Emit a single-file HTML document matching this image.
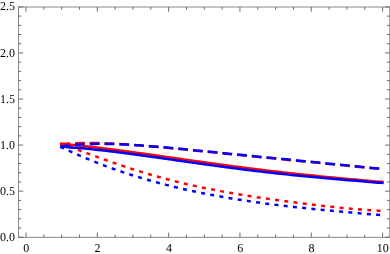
<!DOCTYPE html>
<html><head><meta charset="utf-8"><style>
html,body{margin:0;padding:0;background:#fff;}
svg{display:block;will-change:transform}
text{font-family:"Liberation Serif",serif;font-size:12px;fill:#000;text-rendering:geometricPrecision}
</style></head><body>
<svg width="390" height="254" viewBox="0 0 390 254">
<rect width="390" height="254" fill="#fff"/>
<rect x="18.5" y="7.0" width="371.3" height="230.3" fill="none" stroke="#7c7c7c" stroke-width="0.9"/>
<path d="M26.00,237.3 v-4.7 M26.00,7.0 v4.7 M43.83,237.3 v-2.8 M43.83,7.0 v2.8 M61.66,237.3 v-2.8 M61.66,7.0 v2.8 M79.49,237.3 v-2.8 M79.49,7.0 v2.8 M97.32,237.3 v-4.7 M97.32,7.0 v4.7 M115.15,237.3 v-2.8 M115.15,7.0 v2.8 M132.98,237.3 v-2.8 M132.98,7.0 v2.8 M150.81,237.3 v-2.8 M150.81,7.0 v2.8 M168.64,237.3 v-4.7 M168.64,7.0 v4.7 M186.47,237.3 v-2.8 M186.47,7.0 v2.8 M204.30,237.3 v-2.8 M204.30,7.0 v2.8 M222.13,237.3 v-2.8 M222.13,7.0 v2.8 M239.96,237.3 v-4.7 M239.96,7.0 v4.7 M257.79,237.3 v-2.8 M257.79,7.0 v2.8 M275.62,237.3 v-2.8 M275.62,7.0 v2.8 M293.45,237.3 v-2.8 M293.45,7.0 v2.8 M311.28,237.3 v-4.7 M311.28,7.0 v4.7 M329.11,237.3 v-2.8 M329.11,7.0 v2.8 M346.94,237.3 v-2.8 M346.94,7.0 v2.8 M364.77,237.3 v-2.8 M364.77,7.0 v2.8 M382.60,237.3 v-4.7 M382.60,7.0 v4.7 M18.5,237.25 h4.7 M389.8,237.25 h-4.7 M18.5,228.03 h2.8 M389.8,228.03 h-2.8 M18.5,218.82 h2.8 M389.8,218.82 h-2.8 M18.5,209.60 h2.8 M389.8,209.60 h-2.8 M18.5,200.39 h2.8 M389.8,200.39 h-2.8 M18.5,191.18 h4.7 M389.8,191.18 h-4.7 M18.5,181.96 h2.8 M389.8,181.96 h-2.8 M18.5,172.75 h2.8 M389.8,172.75 h-2.8 M18.5,163.53 h2.8 M389.8,163.53 h-2.8 M18.5,154.31 h2.8 M389.8,154.31 h-2.8 M18.5,145.10 h4.7 M389.8,145.10 h-4.7 M18.5,135.88 h2.8 M389.8,135.88 h-2.8 M18.5,126.67 h2.8 M389.8,126.67 h-2.8 M18.5,117.45 h2.8 M389.8,117.45 h-2.8 M18.5,108.24 h2.8 M389.8,108.24 h-2.8 M18.5,99.02 h4.7 M389.8,99.02 h-4.7 M18.5,89.81 h2.8 M389.8,89.81 h-2.8 M18.5,80.59 h2.8 M389.8,80.59 h-2.8 M18.5,71.38 h2.8 M389.8,71.38 h-2.8 M18.5,62.16 h2.8 M389.8,62.16 h-2.8 M18.5,52.95 h4.7 M389.8,52.95 h-4.7 M18.5,43.73 h2.8 M389.8,43.73 h-2.8 M18.5,34.52 h2.8 M389.8,34.52 h-2.8 M18.5,25.30 h2.8 M389.8,25.30 h-2.8 M18.5,16.09 h2.8 M389.8,16.09 h-2.8 M18.5,6.88 h4.7 M389.8,6.88 h-4.7" fill="none" stroke="#5c5c5c" stroke-width="0.9"/>
<path d="M60.30,143.85 L63.02,144.07 L65.73,144.30 L68.45,144.55 L71.17,144.80 L73.88,145.06 L76.60,145.32 L79.32,145.60 L82.03,145.88 L84.75,146.17 L87.47,146.47 L90.18,146.77 L92.90,147.08 L95.62,147.39 L98.34,147.71 L101.05,148.04 L103.77,148.37 L106.49,148.71 L109.20,149.05 L111.92,149.39 L114.64,149.74 L117.35,150.10 L120.07,150.46 L122.79,150.82 L125.50,151.18 L128.22,151.55 L130.94,151.92 L133.65,152.29 L136.37,152.67 L139.09,153.05 L141.80,153.43 L144.52,153.81 L147.24,154.19 L149.95,154.58 L152.67,154.96 L155.39,155.35 L158.11,155.74 L160.82,156.13 L163.54,156.52 L166.26,156.91 L168.97,157.30 L171.69,157.69 L174.41,158.08 L177.12,158.47 L179.84,158.86 L182.56,159.25 L185.27,159.64 L187.99,160.03 L190.71,160.41 L193.42,160.80 L196.14,161.18 L198.86,161.57 L201.57,161.95 L204.29,162.33 L207.01,162.71 L209.72,163.09 L212.44,163.46 L215.16,163.84 L217.87,164.21 L220.59,164.58 L223.31,164.95 L226.03,165.31 L228.74,165.68 L231.46,166.04 L234.18,166.40 L236.89,166.75 L239.61,167.11 L242.33,167.46 L245.04,167.80 L247.76,168.15 L250.48,168.49 L253.19,168.83 L255.91,169.17 L258.63,169.50 L261.34,169.84 L264.06,170.16 L266.78,170.49 L269.49,170.81 L272.21,171.13 L274.93,171.45 L277.64,171.76 L280.36,172.07 L283.08,172.38 L285.79,172.69 L288.51,172.99 L291.23,173.29 L293.95,173.58 L296.66,173.88 L299.38,174.17 L302.10,174.46 L304.81,174.74 L307.53,175.02 L310.25,175.30 L312.96,175.58 L315.68,175.86 L318.40,176.13 L321.11,176.40 L323.83,176.66 L326.55,176.93 L329.26,177.19 L331.98,177.45 L334.70,177.71 L337.41,177.97 L340.13,178.22 L342.85,178.47 L345.56,178.72 L348.28,178.97 L351.00,179.22 L353.72,179.47 L356.43,179.71 L359.15,179.95 L361.87,180.20 L364.58,180.44 L367.30,180.68 L370.02,180.92 L372.73,181.16 L375.45,181.40 L378.17,181.63 L380.88,181.87 L383.60,182.11" fill="none" stroke="#f00" stroke-width="2.5"/>
<path d="M60.30,144.24 L63.02,144.00 L65.73,143.79 L68.45,143.60 L71.17,143.45 L73.88,143.32 L76.60,143.21 L79.32,143.13 L82.03,143.07 L84.75,143.03 L87.47,143.01 L90.18,143.01 L92.90,143.02 L95.62,143.06 L98.34,143.11 L101.05,143.18 L103.77,143.26 L106.49,143.35 L109.20,143.46 L111.92,143.58 L114.64,143.72 L117.35,143.86 L120.07,144.02 L122.79,144.18 L125.50,144.36 L128.22,144.54 L130.94,144.73 L133.65,144.93 L136.37,145.14 L139.09,145.35 L141.80,145.57 L144.52,145.79 L147.24,146.02 L149.95,146.26 L152.67,146.50 L155.39,146.74 L158.11,146.99 L160.82,147.24 L163.54,147.49 L166.26,147.75 L168.97,148.01 L171.69,148.27 L174.41,148.54 L177.12,148.80 L179.84,149.07 L182.56,149.34 L185.27,149.61 L187.99,149.88 L190.71,150.15 L193.42,150.42 L196.14,150.69 L198.86,150.97 L201.57,151.24 L204.29,151.51 L207.01,151.79 L209.72,152.06 L212.44,152.34 L215.16,152.61 L217.87,152.88 L220.59,153.16 L223.31,153.43 L226.03,153.70 L228.74,153.97 L231.46,154.25 L234.18,154.52 L236.89,154.79 L239.61,155.06 L242.33,155.33 L245.04,155.60 L247.76,155.87 L250.48,156.14 L253.19,156.41 L255.91,156.68 L258.63,156.95 L261.34,157.22 L264.06,157.49 L266.78,157.76 L269.49,158.02 L272.21,158.29 L274.93,158.56 L277.64,158.83 L280.36,159.10 L283.08,159.37 L285.79,159.64 L288.51,159.90 L291.23,160.17 L293.95,160.44 L296.66,160.71 L299.38,160.98 L302.10,161.25 L304.81,161.52 L307.53,161.79 L310.25,162.06 L312.96,162.33 L315.68,162.60 L318.40,162.87 L321.11,163.14 L323.83,163.42 L326.55,163.69 L329.26,163.96 L331.98,164.23 L334.70,164.50 L337.41,164.77 L340.13,165.04 L342.85,165.31 L345.56,165.58 L348.28,165.84 L351.00,166.11 L353.72,166.38 L356.43,166.64 L359.15,166.90 L361.87,167.16 L364.58,167.42 L367.30,167.68 L370.02,167.94 L372.73,168.19 L375.45,168.44 L378.17,168.68 L380.88,168.93 L383.60,169.17" fill="none" stroke="#f00" stroke-width="2.5" stroke-dasharray="9.8 4.98"/>
<path d="M60.30,143.55 L63.02,144.52 L65.73,145.49 L68.45,146.47 L71.17,147.46 L73.88,148.45 L76.60,149.45 L79.32,150.44 L82.03,151.44 L84.75,152.43 L87.47,153.43 L90.18,154.42 L92.90,155.41 L95.62,156.40 L98.34,157.38 L101.05,158.35 L103.77,159.32 L106.49,160.29 L109.20,161.24 L111.92,162.19 L114.64,163.13 L117.35,164.07 L120.07,164.99 L122.79,165.90 L125.50,166.80 L128.22,167.70 L130.94,168.58 L133.65,169.45 L136.37,170.31 L139.09,171.16 L141.80,172.00 L144.52,172.82 L147.24,173.64 L149.95,174.44 L152.67,175.23 L155.39,176.01 L158.11,176.77 L160.82,177.52 L163.54,178.26 L166.26,178.99 L168.97,179.71 L171.69,180.41 L174.41,181.10 L177.12,181.78 L179.84,182.45 L182.56,183.10 L185.27,183.75 L187.99,184.38 L190.71,185.00 L193.42,185.61 L196.14,186.21 L198.86,186.79 L201.57,187.37 L204.29,187.94 L207.01,188.49 L209.72,189.04 L212.44,189.57 L215.16,190.10 L217.87,190.62 L220.59,191.13 L223.31,191.62 L226.03,192.11 L228.74,192.60 L231.46,193.07 L234.18,193.54 L236.89,194.00 L239.61,194.45 L242.33,194.89 L245.04,195.33 L247.76,195.76 L250.48,196.19 L253.19,196.61 L255.91,197.02 L258.63,197.43 L261.34,197.83 L264.06,198.23 L266.78,198.62 L269.49,199.01 L272.21,199.39 L274.93,199.77 L277.64,200.14 L280.36,200.51 L283.08,200.88 L285.79,201.24 L288.51,201.60 L291.23,201.96 L293.95,202.31 L296.66,202.66 L299.38,203.00 L302.10,203.34 L304.81,203.68 L307.53,204.01 L310.25,204.34 L312.96,204.67 L315.68,204.99 L318.40,205.31 L321.11,205.62 L323.83,205.93 L326.55,206.24 L329.26,206.53 L331.98,206.83 L334.70,207.12 L337.41,207.40 L340.13,207.68 L342.85,207.95 L345.56,208.21 L348.28,208.47 L351.00,208.72 L353.72,208.96 L356.43,209.19 L359.15,209.41 L361.87,209.62 L364.58,209.82 L367.30,210.01 L370.02,210.19 L372.73,210.35 L375.45,210.50 L378.17,210.63 L380.88,210.75 L383.60,210.85" fill="none" stroke="#f00" stroke-width="2.5" stroke-dasharray="4 5.277"/>
<path d="M60.30,146.70 L63.02,146.86 L65.73,147.03 L68.45,147.22 L71.17,147.42 L73.88,147.63 L76.60,147.85 L79.32,148.08 L82.03,148.31 L84.75,148.56 L87.47,148.82 L90.18,149.09 L92.90,149.37 L95.62,149.65 L98.34,149.94 L101.05,150.24 L103.77,150.55 L106.49,150.86 L109.20,151.18 L111.92,151.50 L114.64,151.84 L117.35,152.17 L120.07,152.51 L122.79,152.86 L125.50,153.21 L128.22,153.57 L130.94,153.93 L133.65,154.29 L136.37,154.66 L139.09,155.03 L141.80,155.40 L144.52,155.77 L147.24,156.15 L149.95,156.53 L152.67,156.91 L155.39,157.30 L158.11,157.68 L160.82,158.07 L163.54,158.46 L166.26,158.84 L168.97,159.23 L171.69,159.62 L174.41,160.01 L177.12,160.40 L179.84,160.79 L182.56,161.17 L185.27,161.56 L187.99,161.95 L190.71,162.33 L193.42,162.72 L196.14,163.10 L198.86,163.48 L201.57,163.87 L204.29,164.24 L207.01,164.62 L209.72,165.00 L212.44,165.37 L215.16,165.74 L217.87,166.11 L220.59,166.47 L223.31,166.84 L226.03,167.20 L228.74,167.56 L231.46,167.91 L234.18,168.26 L236.89,168.61 L239.61,168.96 L242.33,169.30 L245.04,169.64 L247.76,169.98 L250.48,170.31 L253.19,170.64 L255.91,170.97 L258.63,171.29 L261.34,171.61 L264.06,171.93 L266.78,172.24 L269.49,172.55 L272.21,172.86 L274.93,173.16 L277.64,173.46 L280.36,173.76 L283.08,174.05 L285.79,174.34 L288.51,174.62 L291.23,174.91 L293.95,175.18 L296.66,175.46 L299.38,175.73 L302.10,176.00 L304.81,176.27 L307.53,176.53 L310.25,176.79 L312.96,177.05 L315.68,177.30 L318.40,177.55 L321.11,177.80 L323.83,178.05 L326.55,178.29 L329.26,178.54 L331.98,178.78 L334.70,179.01 L337.41,179.25 L340.13,179.48 L342.85,179.71 L345.56,179.94 L348.28,180.17 L351.00,180.40 L353.72,180.62 L356.43,180.85 L359.15,181.07 L361.87,181.30 L364.58,181.52 L367.30,181.74 L370.02,181.97 L372.73,182.19 L375.45,182.41 L378.17,182.64 L380.88,182.86 L383.60,183.09" fill="none" stroke="#00f" stroke-width="2.5"/>
<path d="M60.30,146.58 L63.02,146.19 L65.73,145.83 L68.45,145.51 L71.17,145.22 L73.88,144.97 L76.60,144.74 L79.32,144.54 L82.03,144.37 L84.75,144.23 L87.47,144.11 L90.18,144.02 L92.90,143.95 L95.62,143.90 L98.34,143.87 L101.05,143.87 L103.77,143.88 L106.49,143.91 L109.20,143.95 L111.92,144.02 L114.64,144.10 L117.35,144.19 L120.07,144.29 L122.79,144.41 L125.50,144.55 L128.22,144.69 L130.94,144.84 L133.65,145.01 L136.37,145.18 L139.09,145.36 L141.80,145.55 L144.52,145.75 L147.24,145.96 L149.95,146.17 L152.67,146.39 L155.39,146.61 L158.11,146.84 L160.82,147.08 L163.54,147.32 L166.26,147.56 L168.97,147.80 L171.69,148.05 L174.41,148.31 L177.12,148.56 L179.84,148.82 L182.56,149.08 L185.27,149.35 L187.99,149.61 L190.71,149.88 L193.42,150.14 L196.14,150.41 L198.86,150.68 L201.57,150.95 L204.29,151.22 L207.01,151.49 L209.72,151.76 L212.44,152.04 L215.16,152.31 L217.87,152.58 L220.59,152.85 L223.31,153.12 L226.03,153.40 L228.74,153.67 L231.46,153.94 L234.18,154.21 L236.89,154.48 L239.61,154.75 L242.33,155.02 L245.04,155.29 L247.76,155.56 L250.48,155.83 L253.19,156.10 L255.91,156.37 L258.63,156.64 L261.34,156.91 L264.06,157.18 L266.78,157.45 L269.49,157.72 L272.21,157.99 L274.93,158.26 L277.64,158.53 L280.36,158.79 L283.08,159.06 L285.79,159.33 L288.51,159.60 L291.23,159.87 L293.95,160.14 L296.66,160.41 L299.38,160.68 L302.10,160.95 L304.81,161.22 L307.53,161.49 L310.25,161.76 L312.96,162.03 L315.68,162.30 L318.40,162.57 L321.11,162.85 L323.83,163.12 L326.55,163.39 L329.26,163.66 L331.98,163.93 L334.70,164.20 L337.41,164.47 L340.13,164.74 L342.85,165.01 L345.56,165.28 L348.28,165.55 L351.00,165.82 L353.72,166.08 L356.43,166.35 L359.15,166.61 L361.87,166.87 L364.58,167.13 L367.30,167.38 L370.02,167.64 L372.73,167.89 L375.45,168.14 L378.17,168.38 L380.88,168.62 L383.60,168.86" fill="none" stroke="#00f" stroke-width="2.5" stroke-dasharray="9.8 4.98"/>
<path d="M60.30,146.76 L63.02,148.06 L65.73,149.34 L68.45,150.60 L71.17,151.84 L73.88,153.06 L76.60,154.26 L79.32,155.45 L82.03,156.62 L84.75,157.77 L87.47,158.90 L90.18,160.01 L92.90,161.11 L95.62,162.19 L98.34,163.25 L101.05,164.30 L103.77,165.33 L106.49,166.34 L109.20,167.34 L111.92,168.32 L114.64,169.29 L117.35,170.24 L120.07,171.17 L122.79,172.09 L125.50,173.00 L128.22,173.89 L130.94,174.76 L133.65,175.63 L136.37,176.47 L139.09,177.30 L141.80,178.12 L144.52,178.93 L147.24,179.72 L149.95,180.49 L152.67,181.26 L155.39,182.01 L158.11,182.75 L160.82,183.47 L163.54,184.19 L166.26,184.89 L168.97,185.57 L171.69,186.25 L174.41,186.92 L177.12,187.57 L179.84,188.21 L182.56,188.84 L185.27,189.46 L187.99,190.06 L190.71,190.66 L193.42,191.25 L196.14,191.82 L198.86,192.39 L201.57,192.94 L204.29,193.49 L207.01,194.02 L209.72,194.55 L212.44,195.06 L215.16,195.57 L217.87,196.07 L220.59,196.56 L223.31,197.04 L226.03,197.51 L228.74,197.97 L231.46,198.42 L234.18,198.87 L236.89,199.31 L239.61,199.74 L242.33,200.16 L245.04,200.57 L247.76,200.98 L250.48,201.38 L253.19,201.77 L255.91,202.16 L258.63,202.54 L261.34,202.91 L264.06,203.28 L266.78,203.64 L269.49,203.99 L272.21,204.34 L274.93,204.68 L277.64,205.02 L280.36,205.35 L283.08,205.68 L285.79,206.00 L288.51,206.31 L291.23,206.62 L293.95,206.93 L296.66,207.23 L299.38,207.52 L302.10,207.82 L304.81,208.11 L307.53,208.39 L310.25,208.67 L312.96,208.95 L315.68,209.22 L318.40,209.49 L321.11,209.76 L323.83,210.02 L326.55,210.28 L329.26,210.54 L331.98,210.79 L334.70,211.04 L337.41,211.29 L340.13,211.54 L342.85,211.79 L345.56,212.03 L348.28,212.27 L351.00,212.51 L353.72,212.75 L356.43,212.99 L359.15,213.23 L361.87,213.46 L364.58,213.69 L367.30,213.93 L370.02,214.16 L372.73,214.39 L375.45,214.62 L378.17,214.86 L380.88,215.09 L383.60,215.32" fill="none" stroke="#00f" stroke-width="2.5" stroke-dasharray="4 5.286"/>
<text x="26.30" y="251.8" text-anchor="middle">0</text>
<text x="97.62" y="251.8" text-anchor="middle">2</text>
<text x="168.94" y="251.8" text-anchor="middle">4</text>
<text x="240.26" y="251.8" text-anchor="middle">6</text>
<text x="311.58" y="251.8" text-anchor="middle">8</text>
<text x="382.80" y="251.8" text-anchor="middle">10</text>
<text x="15" y="240.80" text-anchor="end">0.0</text>
<text x="15" y="194.73" text-anchor="end">0.5</text>
<text x="15" y="148.65" text-anchor="end">1.0</text>
<text x="15" y="102.57" text-anchor="end">1.5</text>
<text x="15" y="56.50" text-anchor="end">2.0</text>
<text x="15" y="10.43" text-anchor="end">2.5</text>
</svg></body></html>
